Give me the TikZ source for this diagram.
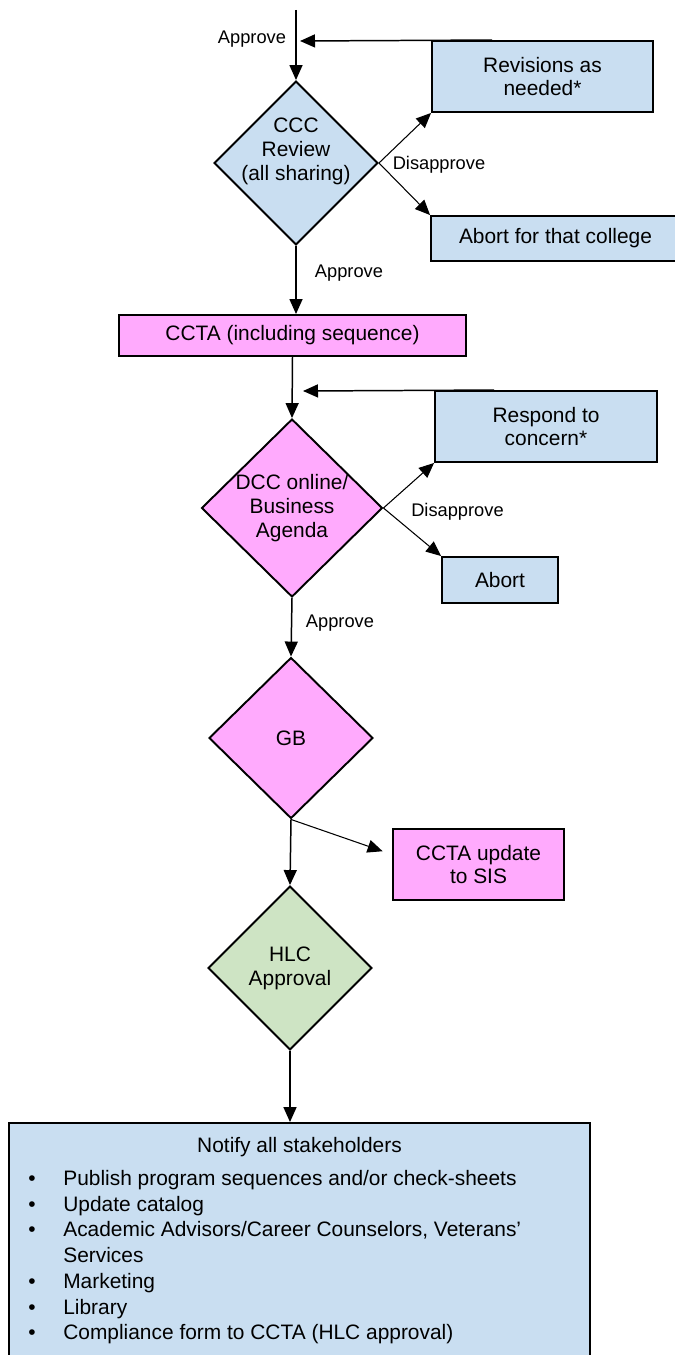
\documentclass[tikz,border=0pt]{standalone}
\usepackage{fontspec}
\setmainfont{Liberation Sans}
\usetikzlibrary{shapes.geometric, arrows.meta}

\definecolor{boxblue}{RGB}{201,222,241}
\definecolor{boxpink}{RGB}{255,170,253}
\definecolor{boxgreen}{RGB}{206,228,196}

\tikzset{boxtext/.style={align=center, inner sep=0pt, font=\fontsize{11.9}{13.6}\selectfont}}
\tikzset{process/.style={boxtext, draw, line width=1.1pt}}
\tikzset{decision/.style={draw, diamond, line width=1.1pt, inner sep=0pt}}
\tikzset{caption/.style={inner sep=0pt, font=\fontsize{10.4}{12.5}\selectfont}}
\tikzset{flow/.style={-{Triangle[length=0.3cm, width=0.26cm]}, line width=0.85pt}}
\tikzset{side-flow/.style={flow, line width=0.6pt}}

\begin{document}
\begin{tikzpicture}[x=0.02cm, y=-0.02cm]

	\useasboundingbox (0,0) rectangle (674,1355);

	\coordinate (entry) at (296,10);
	\coordinate (back-ccc) at (300,41);
	\coordinate (back-dcc) at (303,391);

	\node[decision, fill=boxblue, minimum width=3.28cm, minimum height=3.28cm,
		label={[boxtext, yshift=0.24cm]center:CCC\\Review\\(all sharing)}] (ccc) at (296,163) {};
	\node[process, fill=boxblue, minimum width=4.42cm, minimum height=1.42cm] (revisions) at (542.5,76.5) {Revisions as\\needed*};
	\node[process, fill=boxblue, minimum width=4.98cm, minimum height=0.9cm] (abort-college) at (555.5,238.5) {Abort for that college};

	\node[process, fill=boxpink, minimum width=6.94cm, minimum height=0.82cm] (ccta) at (292.5,335.5) {CCTA (including sequence)};

	\node[decision, fill=boxpink, minimum width=3.62cm, minimum height=3.56cm,
		label={[boxtext]center:DCC online/\\Business\\Agenda}] (dcc) at (292,508) {};
	\node[process, fill=boxblue, minimum width=4.44cm, minimum height=1.42cm] (respond) at (546,426.5) {Respond to\\concern*};
	\node[process, fill=boxblue, minimum width=2.32cm, minimum height=0.92cm] (abort) at (500,580) {Abort};

	\node[decision, fill=boxpink, minimum width=3.28cm, minimum height=3.22cm,
		label={[boxtext]center:GB}] (gb) at (291,738) {};
	\node[process, fill=boxpink, minimum width=3.42cm, minimum height=1.42cm] (ccta-sis) at (478.5,864.5) {CCTA update\\to SIS};

	\node[decision, fill=boxgreen, minimum width=3.28cm, minimum height=3.28cm,
		label={[boxtext]center:HLC\\Approval}] (hlc) at (290,968) {};

	\node[process, fill=boxblue, minimum width=11.62cm, minimum height=4.84cm] (notify) at (299.5,1244) {};
	\node[boxtext] (notify-title) at (299.5,1147) {Notify all stakeholders};
	\node[boxtext, anchor=base west, align=left] (notify-list) at (28,1185.5) {\fontsize{11.9}{14.65}\selectfont
		\begin{tabular}[t]{@{}p{0.7cm}@{}l@{}}
		\textbullet & Publish program sequences and/or check-sheets\\
		\textbullet & Update catalog\\
		\textbullet & Academic Advisors/Career Counselors, Veterans’\\
		 & Services\\
		\textbullet & Marketing\\
		\textbullet & Library\\
		\textbullet & Compliance form to CCTA (HLC approval)
		\end{tabular}};

	\node[caption] (approve-top) at (252,39) {Approve};
	\node[caption] (disapprove-ccc) at (439,165) {Disapprove};
	\node[caption] (approve-ccc) at (349,273) {Approve};
	\node[caption] (disapprove-dcc) at (457.5,512) {Disapprove};
	\node[caption] (approve-dcc) at (340,623) {Approve};

	\draw[flow] (entry) -- (ccc.north);
	\draw[flow] ([xshift=1.22cm]revisions.north west) -- (back-ccc);
	\draw[side-flow] (ccc.east) -- (revisions.south west);
	\draw[side-flow] (ccc.east) -- (abort-college.north west);
	\draw[flow] (ccc.south) -- (ccc.south |- ccta.north);

	\draw[flow] (ccta.south) -- (dcc.north);
	\draw[flow] ([xshift=1.2cm]respond.north west) -- (back-dcc);
	\draw[side-flow] (dcc.east) -- (respond.south west);
	\draw[side-flow] (dcc.east) -- (abort.north west);
	\draw[flow] (dcc.south) -- (gb.north);

	\draw[side-flow, shorten >=0.2cm] (gb.south) -- ([yshift=0.2cm]ccta-sis.west);
	\draw[flow] (gb.south) -- (hlc.north);
	\draw[flow] (hlc.south) -- (hlc.south |- notify.north);
\end{tikzpicture}
\end{document}
